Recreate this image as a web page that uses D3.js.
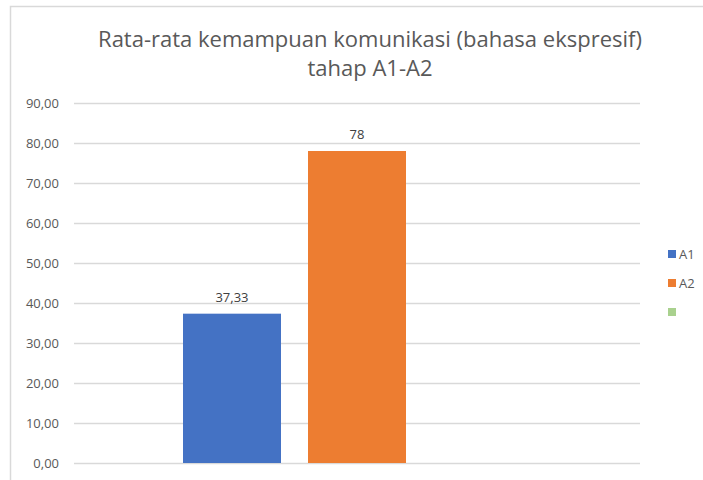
<!DOCTYPE html>
<html><head><meta charset="utf-8">
<script src="https://cdn.jsdelivr.net/npm/d3@7"></script>
<style>html,body{margin:0;padding:0;background:#fff;}svg{display:block;}</style>
</head><body>
<svg id="c" width="703" height="480"></svg>
<script>
const titleLines = ["Rata-rata kemampuan  komunikasi (bahasa ekspresif)", "tahap A1-A2"];
const categories = ["1"];
const seriesNames = ["A1", "A2", ""];
const seriesValues = [37.33, 78, null];
const seriesColors = ["#4472C4", "#ED7D31", "#A9D18E"];
const yTicks = [0, 10, 20, 30, 40, 50, 60, 70, 80, 90];

const svg = d3.select("#c");
const font = "'Open Sans', 'Noto Sans', sans-serif";

// chart border
svg.append("path").attr("d", "M10.5,480 L10.5,6.5 L703,6.5")
  .attr("fill", "none").attr("stroke", "#d9d9d9").attr("stroke-width", 1.5);

const plot = {left: 74, right: 640, top: 103, bottom: 463};
const y = d3.scaleLinear().domain([0, 90]).range([plot.bottom, plot.top]);
const x0 = d3.scaleBand().domain(categories).range([plot.left, plot.right]).padding(0);
const x1 = d3.scaleBand().domain(seriesNames.map((d, i) => i))
  .range([0, x0.bandwidth()]).paddingInner(0.216).paddingOuter(0.872);

const fmt = v => String(v).replace(".", ",");
const tickFmt = v => v.toFixed(2).replace(".", ",");

// gridlines
const yAxis = d3.axisLeft(y).tickValues(yTicks).tickSize(-(plot.right - plot.left)).tickFormat(tickFmt).tickPadding(15);
const ga = svg.append("g").attr("transform", `translate(${plot.left},0)`).call(yAxis);
ga.select(".domain").remove();
ga.selectAll(".tick line").attr("stroke", "#d9d9d9").attr("stroke-width", 1.5);
ga.selectAll(".tick text").attr("fill", "#595959").attr("font-family", font).attr("font-size", 13);

// bars
const g = svg.append("g");
categories.forEach(cat => {
  seriesValues.forEach((v, i) => {
    if (v == null) return;
    const bx = x0(cat) + x1(i);
    g.append("rect").attr("x", bx).attr("y", y(v))
      .attr("width", x1.bandwidth()).attr("height", y(0) - y(v))
      .attr("fill", seriesColors[i]);
    g.append("text").attr("x", bx + x1.bandwidth() / 2).attr("y", y(v) - 12)
      .attr("text-anchor", "middle").attr("fill", "#404040")
      .attr("font-family", font).attr("font-size", 13).text(fmt(v));
  });
});

// title
const t = svg.append("g");
t.append("text").attr("x", 370).attr("y", 47).attr("text-anchor", "middle")
  .attr("fill", "#595959").attr("font-family", font).attr("font-size", 22).text(titleLines[0]);
t.append("text").attr("x", 370).attr("y", 76).attr("text-anchor", "middle")
  .attr("fill", "#595959").attr("font-family", font).attr("font-size", 22).text(titleLines[1]);

// legend
const lg = svg.append("g");
seriesNames.forEach((n, i) => {
  const cy = 254 + i * 29;
  lg.append("rect").attr("x", 668).attr("y", cy - 4).attr("width", 8).attr("height", 8).attr("fill", seriesColors[i]);
  lg.append("text").attr("x", 679).attr("y", cy + 5).attr("fill", "#595959")
    .attr("font-family", font).attr("font-size", 13).text(n);
});
</script>
</body></html>
